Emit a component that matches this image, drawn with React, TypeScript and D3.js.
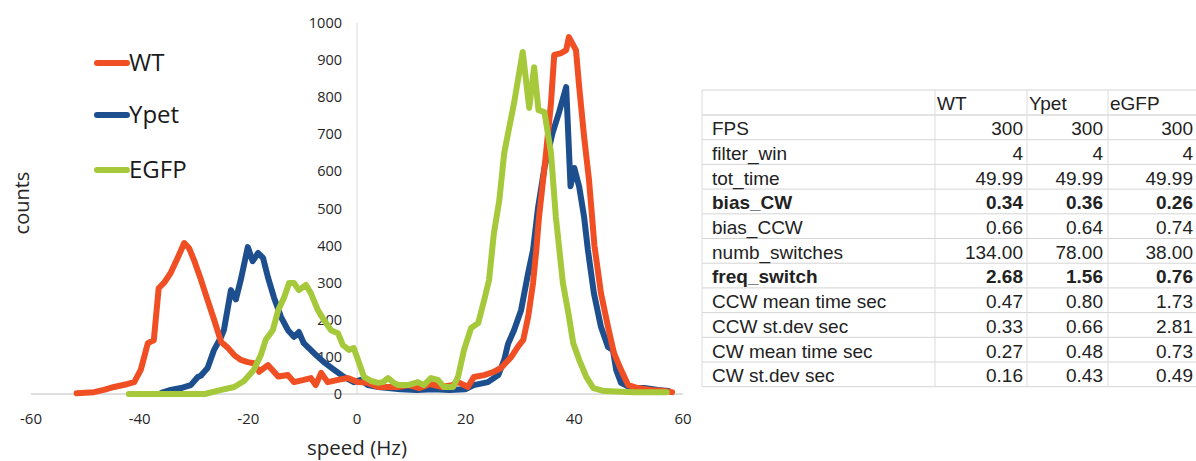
import React from "react";
import * as d3 from "d3";

const wtSpeed = [-51.6,-48.4,-46.6,-44.7,-42.2,-41,-39.8,-38.5,-37.4,-36.5,-35.5,-34.3,-33,-31.8,-30.9,-30,-28.7,-27.5,-26.3,-25,-23.8,-22.6,-21.4,-20.1,-19,-18,-16.4,-14.5,-12.7,-11.6,-9.8,-8.5,-7.6,-6.6,-5.4,-3.5,-1.7,0.2,2,3.9,5.7,7.6,9.5,11.5,13.5,15.5,17.5,18.6,20.4,21.5,23.4,25.2,26.5,28.4,29.6,30.6,31.5,32.4,33,33.5,34.8,35.7,36.3,37.6,38.5,39,40.3,40.9,41.8,42.7,43.7,44.9,46.2,47.3,48.6,49.9,51.7,54.1,56.5,58];
const wtCounts = [2,5,11,19,27,32,65,137,145,285,300,326,367,407,393,361,307,253,200,140,125,105,92,86,83,60,78,47,51,32,38,43,24,57,32,38,43,32,30,19,19,19,24,16,27,19,24,32,19,46,51,60,70,100,127,146,208,299,388,477,650,784,914,919,927,962,927,827,693,577,400,272,181,110,65,24,16,11,8,5];

const ypSpeed = [-36,-34.3,-32.4,-30.6,-29.3,-28.7,-27.5,-26.3,-25,-24.5,-23.2,-22.3,-21.4,-20.1,-19.2,-18.2,-17.3,-16.4,-15.3,-14,-12.7,-11.6,-10.7,-9.8,-7.9,-6.1,-4.2,-2.4,-0.6,0.7,2,3.9,5.7,8,11,14,17,20,21.5,24.1,26,27.1,27.8,28.9,30.2,31.5,32.4,33.3,34.5,36,37.2,38.5,39.3,40,40.9,41.8,42.5,43.6,44.9,46.2,47.1,47.7,48.6,50.5,52.9,55.4,57.3];
const ypCounts = [3,11,16,24,46,50,70,119,154,172,280,255,307,396,358,380,367,315,261,208,172,154,167,137,110,86,65,46,32,38,24,19,16,13,11,13,11,13,24,32,51,92,135,172,226,326,388,500,610,704,760,827,560,609,558,477,388,272,181,127,119,65,30,16,16,11,8];

const egSpeed = [-42,-35,-28,-25,-22.6,-20.8,-19,-17.7,-16.8,-15.5,-14.5,-13.4,-12.5,-11.6,-10.7,-9.4,-8.5,-7.2,-6.1,-4.8,-3.5,-2.6,-1.5,-0.6,0.4,1.3,2.6,3.9,4.8,5.7,6.8,7.6,9.4,11.2,12.3,13.6,14.9,16,17.7,18.6,19.7,21,22.3,23.4,24.3,25.2,26.2,27.1,28.9,30.5,31.7,32.6,33.4,34.5,35.7,36.6,37.9,38.9,39.8,40.9,42.2,43.5,45.5,51,57];
const egCounts = [0,0,0,11,19,35,65,105,146,172,226,261,299,299,280,294,272,226,200,172,164,132,119,124,83,46,35,30,32,43,30,24,24,32,24,43,38,19,19,46,119,178,191,253,307,434,523,650,784,922,771,881,765,760,650,477,299,218,137,92,46,16,8,5,5];

const seriesNames = ["WT", "Ypet", "EGFP"];
const seriesColors = ["#f04e23", "#1d4e8d", "#a5c93a"];
const xTicks = [-60, -40, -20, 0, 20, 40, 60];
const yTicks = [0, 100, 200, 300, 400, 500, 600, 700, 800, 900, 1000];

const tableHeader = ["", "WT", "Ypet", "eGFP"];
const rowLabels = ["FPS", "filter_win", "tot_time", "bias_CW", "bias_CCW", "numb_switches", "freq_switch", "CCW mean time sec", "CCW st.dev sec", "CW mean time sec", "CW st.dev sec"];
const wtVals = ["300", "4", "49.99", "0.34", "0.66", "134.00", "2.68", "0.47", "0.33", "0.27", "0.16"];
const ypVals = ["300", "4", "49.99", "0.36", "0.64", "78.00", "1.56", "0.80", "0.66", "0.48", "0.43"];
const egVals = ["300", "4", "49.99", "0.26", "0.74", "38.00", "0.76", "1.73", "2.81", "0.73", "0.49"];
const boldRows = ["bias_CW", "freq_switch"];

export default function App() {
  const x = d3.scaleLinear().domain([-60, 60]).range([31, 683]);
  const y = d3.scaleLinear().domain([0, 1000]).range([394, 23]);
  const line = d3
    .line<[number, number]>()
    .x((d) => x(d[0]))
    .y((d) => y(d[1]));
  const series = [
    wtSpeed.map((s, i) => [s, wtCounts[i]] as [number, number]),
    ypSpeed.map((s, i) => [s, ypCounts[i]] as [number, number]),
    egSpeed.map((s, i) => [s, egCounts[i]] as [number, number]),
  ];
  const drawOrder = [1, 0, 2];
  const chartFont = "'Open Sans', sans-serif";
  const tableFont = "'Liberation Sans', Arial, sans-serif";

  // table geometry
  const tTop = 90;
  const headH = 25;
  const rowH = 24.7;
  const colX = [702, 935, 1027, 1108, 1196];
  const tBottom = tTop + headH + rowLabels.length * rowH;
  const valRight = [1023, 1103, 1193];
  const cols = [wtVals, ypVals, egVals];

  return (
    <svg
      width={1196}
      height={461}
      style={{ position: "absolute", left: 0, top: 0, background: "#fff" }}
    >
      {/* axes */}
      <line x1={x(0)} x2={x(0)} y1={y(1000)} y2={y(0)} stroke="#d9d9d9" strokeWidth={1} />
      <line x1={x(-60)} x2={x(60)} y1={y(0)} y2={y(0)} stroke="#bfbfbf" strokeWidth={1} />
      {yTicks.map((t) => (
        <text key={"y" + t} x={342} y={y(t)} dy="0.35em" textAnchor="end" fontFamily={chartFont} fontSize={14.5} fill="#262626">
          {t}
        </text>
      ))}
      {xTicks.map((t) => (
        <text key={"x" + t} x={x(t)} y={419} dy="0.35em" textAnchor="middle" fontFamily={chartFont} fontSize={15} fill="#262626">
          {t}
        </text>
      ))}
      <text x={x(0)} y={448} dy="0.35em" textAnchor="middle" fontFamily={chartFont} fontSize={20.5} fill="#262626">
        speed (Hz)
      </text>
      <text transform="translate(22,203) rotate(-90)" dy="0.35em" textAnchor="middle" fontFamily={chartFont} fontSize={20} fill="#262626">
        counts
      </text>

      {/* series */}
      {drawOrder.map((i) => (
        <path
          key={"s" + i}
          d={line(series[i]) || ""}
          fill="none"
          stroke={seriesColors[i]}
          strokeWidth={6}
          strokeLinejoin="round"
          strokeLinecap="round"
        />
      ))}

      {/* legend */}
      {seriesNames.map((n, i) => {
        const ly = [63, 115, 170][i];
        return (
          <g key={"l" + n}>
            <line x1={97} x2={127} y1={ly} y2={ly} stroke={seriesColors[i]} strokeWidth={6} strokeLinecap="round" />
            <text x={129} y={ly} dy="0.35em" fontFamily={chartFont} fontSize={24} fill="#1a1a1a">
              {n}
            </text>
          </g>
        );
      })}

      {/* table */}
      <g fontFamily={tableFont} fontSize={19} fill="#222">
        <line x1={colX[0]} x2={colX[4]} y1={tTop} y2={tTop} stroke="#d4d4d4" />
        <line x1={colX[0]} x2={colX[4]} y1={tTop + headH} y2={tTop + headH} stroke="#c8c8c8" />
        {rowLabels.map((_, r) => (
          <line key={"rl" + r} x1={colX[0]} x2={colX[4]} y1={tTop + headH + (r + 1) * rowH} y2={tTop + headH + (r + 1) * rowH} stroke="#d4d4d4" />
        ))}
        {colX.slice(0, 4).map((cx, c) => (
          <line key={"cl" + c} x1={cx} x2={cx} y1={tTop} y2={tBottom} stroke="#dcdcdc" />
        ))}
        {tableHeader.slice(1).map((h, c) => (
          <text key={"h" + h} x={colX[c + 1] + 2} y={tTop + headH - 5}>
            {h}
          </text>
        ))}
        {rowLabels.map((lab, r) => {
          const base = tTop + headH + (r + 1) * rowH - 4.5;
          const bold = boldRows.includes(lab);
          return (
            <g key={"r" + r} fontWeight={bold ? "bold" : "normal"}>
              <text x={712} y={base}>{lab}</text>
              {cols.map((cv, c) => (
                <text key={"v" + c} x={valRight[c]} y={base} textAnchor="end">
                  {cv[r]}
                </text>
              ))}
            </g>
          );
        })}
      </g>
    </svg>
  );
}
